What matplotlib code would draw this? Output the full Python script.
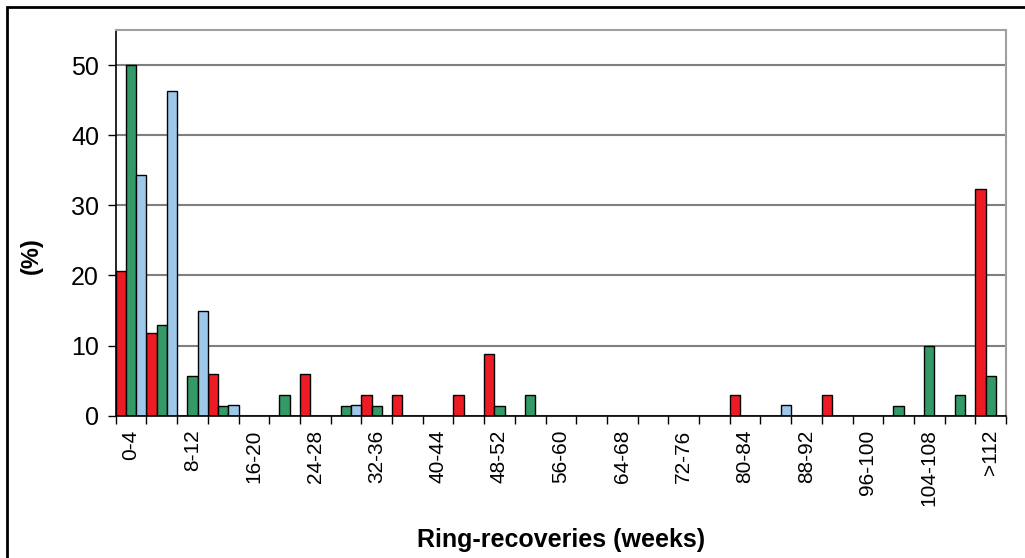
import matplotlib.pyplot as plt
import numpy as np
from matplotlib.patches import Rectangle

plt.rcParams['font.family'] = ['Liberation Sans', 'DejaVu Sans']

categories = ["0-4", "4-8", "8-12", "12-16", "16-20", "20-24", "24-28", "28-32",
              "32-36", "36-40", "40-44", "44-48", "48-52", "52-56", "56-60",
              "60-64", "64-68", "68-72", "72-76", "76-80", "80-84", "84-88",
              "88-92", "92-96", "96-100", "100-104", "104-108", "108-112", ">112"]

red_vals = [20.6, 11.8, 0, 5.9, 0, 0, 5.9, 0, 2.9, 2.9, 0, 2.9, 8.8, 0, 0,
            0, 0, 0, 0, 0, 2.9, 0, 0, 2.9, 0, 0, 0, 0, 32.4]
green_vals = [50.0, 12.9, 5.7, 1.4, 0, 2.9, 0, 1.4, 1.4, 0, 0, 0, 1.4, 2.9, 0,
              0, 0, 0, 0, 0, 0, 0, 0, 0, 0, 1.4, 10.0, 2.9, 5.7]
blue_vals = [34.3, 46.3, 14.9, 1.5, 0, 0, 0, 1.5, 0, 0, 0, 0, 0, 0, 0,
             0, 0, 0, 0, 0, 0, 1.5, 0, 0, 0, 0, 0, 0, 0]

series = [(red_vals, '#ED1C24'), (green_vals, '#339966'), (blue_vals, '#9DC8EA')]

fig = plt.figure(figsize=(10.25, 5.58), dpi=100)
ax = fig.add_axes([0.1129, 0.255, 0.8686, 0.6912])

x = np.arange(len(categories))
w = 1 / 3
for k, (vals, col) in enumerate(series):
    vals = np.array(vals, dtype=float)
    mask = vals > 0
    ax.bar(x[mask] + (k - 1) * w, vals[mask], w, color=col,
           edgecolor='black', linewidth=1.0, zorder=3)

ax.set_xlim(-0.5, len(categories) - 0.5)
ax.set_ylim(0, 55)
ax.set_yticks([0, 10, 20, 30, 40, 50])
ax.yaxis.grid(True, color='#7f7f7f', linewidth=1.5, zorder=0)
ax.tick_params(axis='y', labelsize=18, length=6, width=1, direction='out', pad=6)

# ticks on category boundaries, labels on every second category
ax.set_xticks(np.arange(len(categories) + 1) - 0.5)
ax.set_xticklabels([])
ax.set_xticks(x[::2], minor=True)
ax.set_xticklabels(categories[::2], minor=True, rotation=90, fontsize=15)
ax.tick_params(axis='x', which='major', length=6, width=1, direction='out')
ax.tick_params(axis='x', which='minor', length=0, pad=10)
for lbl in ax.get_xticklabels(minor=True):
    lbl.set_verticalalignment('top')

for s in ['left', 'bottom']:
    ax.spines[s].set_color('black')
    ax.spines[s].set_linewidth(1.2)
for s in ['top', 'right']:
    ax.spines[s].set_color('#a0a0a0')
    ax.spines[s].set_linewidth(1.5)
ax.spines['bottom'].set_zorder(4)

fig.text(31 / 1025, 1 - 256 / 558, '(%)', fontsize=17, fontweight='bold',
         rotation=90, ha='center', va='center')
fig.text(0.547, 0.032, 'Ring-recoveries (weeks)', fontsize=18, fontweight='bold',
         ha='center', va='center')

# outer frame (cropped on right and bottom)
fig.patches.append(Rectangle((7 / 1025, -0.1), 1.2, 1.1 - 7 / 558,
                             transform=fig.transFigure, fill=False,
                             edgecolor='black', linewidth=2))

fig.savefig('out.png', dpi=100)
